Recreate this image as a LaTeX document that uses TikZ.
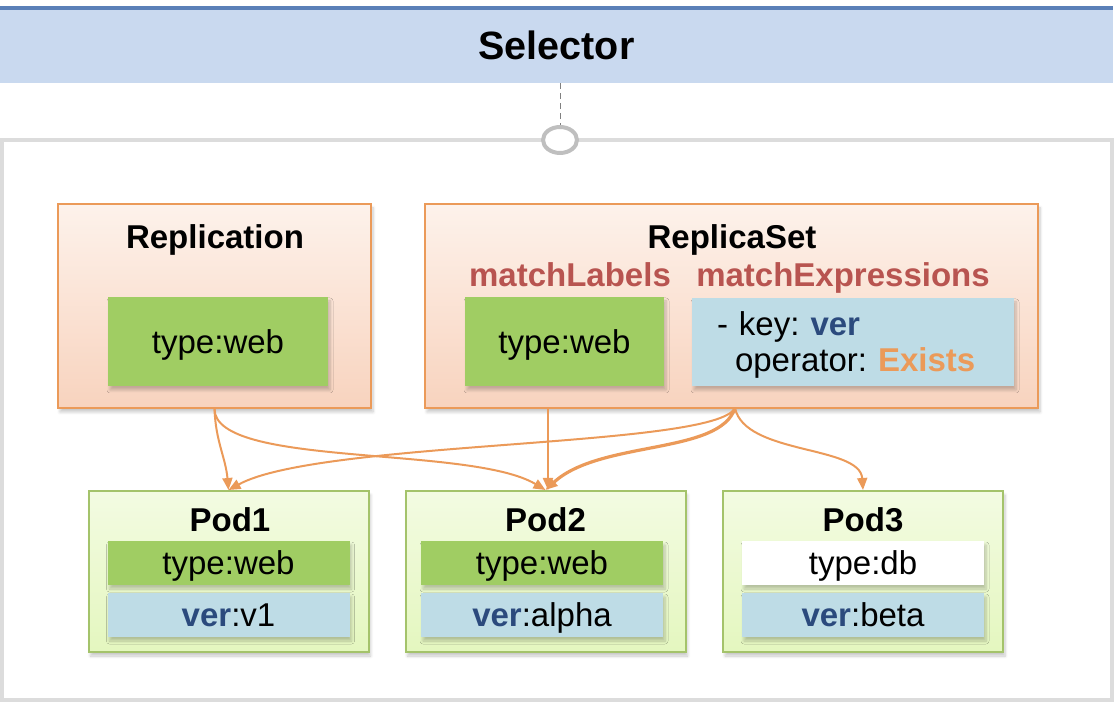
\documentclass[tikz,border=0pt]{standalone}
\usepackage{fontspec}
\setmainfont{Liberation Sans}
\usetikzlibrary{arrows.meta,shadows.blur,shapes.geometric}
\definecolor{selfill}{HTML}{C9D9EF}
\definecolor{selline}{HTML}{5B80B8}
\definecolor{rcline}{HTML}{EB9A59}
\definecolor{rctop}{HTML}{FDF2EB}
\definecolor{rcbot}{HTML}{F8D3BE}
\definecolor{webgreen}{HTML}{A0CD63}
\definecolor{verblue}{HTML}{BEDCE6}
\definecolor{verdark}{HTML}{2B4A7D}
\definecolor{podline}{HTML}{A4C36B}
\definecolor{podtop}{HTML}{F3FBE2}
\definecolor{podbot}{HTML}{E4F7BF}
\definecolor{matchred}{HTML}{B85450}
\definecolor{framegray}{HTML}{DCDCDC}
\newcommand{\verkey}{\textcolor{verdark}{\textbf{ver}}}

\begin{document}
\frenchspacing
\begin{tikzpicture}
[x=0.5pt,y=-0.5pt%
,every node/.style={font=\fontsize{16.5}{18}\selectfont,%
	inner sep=0pt,%
	text depth=0pt}%
,softshadow/.style={blur shadow={shadow blur steps=6,%
	shadow blur radius=1.5pt,%
	shadow xshift=1pt,%
	shadow yshift=-2pt,%
	shadow opacity=22}}%
,ctrl/.style={rectangle,%
	draw=rcline,%
	line width=1pt,%
	top color=rctop,%
	bottom color=rcbot,%
	minimum height=102pt,%
	softshadow}%
,pod/.style={rectangle,%
	draw=podline,%
	line width=1pt,%
	top color=podtop,%
	bottom color=podbot,%
	minimum width=140pt,%
	minimum height=80.5pt,%
	softshadow}%
,tag/.style={rectangle,%
	minimum width=121pt,%
	minimum height=22pt,%
	softshadow}%
,boxtitle/.style={font=\fontsize{16.5}{18}\selectfont\bfseries}%
,sel/.style={draw=rcline,%
	line width=1pt,%
	-{Triangle[length=6pt,width=5pt]}}]
\useasboundingbox (0,0) rectangle (1120,704);
\node[draw=framegray, line width=2pt, minimum width=555pt, minimum height=280pt] (frame) at (557,420) {};
\node[fill=selfill, minimum width=556.5pt, minimum height=37.5pt, font=\fontsize{19.75}{20}\selectfont\bfseries] (selector) at (556.5,45.5) {Selector};
\draw[selline, line width=2pt] (selector.north west) -- (selector.north east);
\node[ellipse, draw=gray!50, line width=2pt, fill=white, minimum width=17pt, minimum height=13pt] (hook) at (560,140) {};
\draw[gray, densely dashed, line width=0.3pt] (selector.south -| hook) -- (hook.north);
% controllers
\node[ctrl, minimum width=156.5pt] (rc) at (214.5,306) {};
\node[boxtitle] (rctitle) at (215,237) {Replication};
\node[tag, fill=webgreen, minimum width=110pt, minimum height=44.5pt] (rcweb) at (218,341.5) {type:web};
\node[ctrl, minimum width=306.5pt] (rs) at (731.5,306) {};
\node[boxtitle] (rstitle) at (732,237) {ReplicaSet};
\node[boxtitle, text=matchred] (ml) at (570,275) {matchLabels};
\node[boxtitle, text=matchred] (me) at (843,275) {matchExpressions};
\node[tag, fill=webgreen, minimum width=99.5pt, minimum height=44.5pt] (rsweb) at (564.5,341.5) {type:web};
\node[tag, fill=verblue, minimum width=161pt, minimum height=44pt, align=left, text width=136pt, text depth=18pt, inner xsep=12.5pt] (rsexp) at (853,342) {- key: \verkey\\\hspace*{9pt}operator: \textcolor{rcline}{\textbf{Exists}}};
% pods
\node[pod] (pod1) at (228.5,571.5) {};
\node[boxtitle] (pod1title) at (230,520) {Pod1};
\node[tag, fill=webgreen] (pod1type) at (228.5,563) {type:web};
\node[tag, fill=verblue] (pod1ver) at (228.5,615) {\verkey:v1};
\node[pod] (pod2) at (545.5,571.5) {};
\node[boxtitle] (pod2title) at (545.5,520) {Pod2};
\node[tag, fill=webgreen] (pod2type) at (542,563) {type:web};
\node[tag, fill=verblue] (pod2ver) at (542,615) {\verkey:alpha};
\node[pod] (pod3) at (863,571.5) {};
\node[boxtitle] (pod3title) at (863,520) {Pod3};
\node[tag, fill=white] (pod3type) at (863,563) {type:db};
\node[tag, fill=verblue] (pod3ver) at (863,615) {\verkey:beta};
% selections
\coordinate (mlout) at (548,408);
\coordinate (meout) at (735,408);
\draw[sel] (rc.south) to[out=-88,in=95] (pod1.north);
\draw[sel] (rc.south) .. controls (215,468) and (470,445) .. (pod2.north);
\draw[sel] (mlout) -- (mlout |- pod2.north);
\draw[sel] (meout) .. controls (715,448) and (320,440) .. (pod1.north);
\draw[sel, line width=1.6pt] (meout) .. controls (720,455) and (600,440) .. (pod2.north);
\draw[sel] (meout) .. controls (745,455) and (860,445) .. (pod3.north);
\end{tikzpicture}
\end{document}
